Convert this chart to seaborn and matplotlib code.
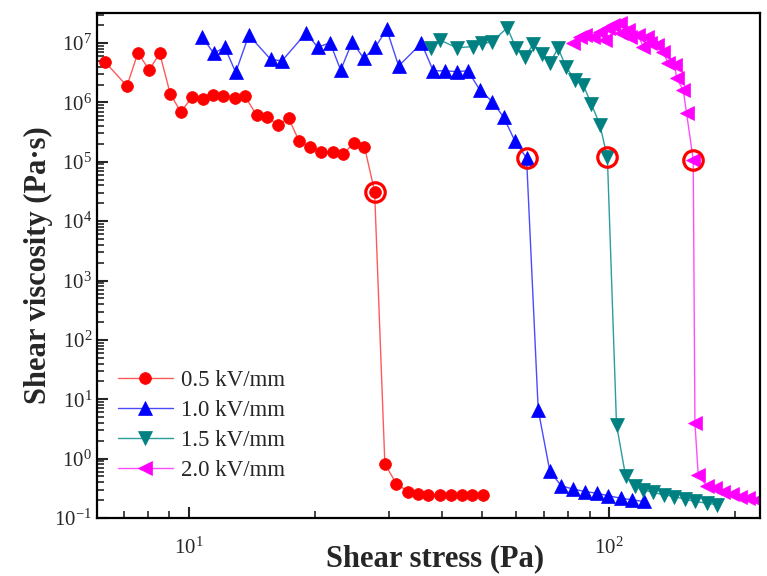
import numpy as np
import pandas as pd
import matplotlib
matplotlib.use("Agg")
import matplotlib.pyplot as plt
import seaborn as sns
from matplotlib.ticker import LogLocator, NullFormatter

# ---- data ----
red_x = [6.31, 7.13, 7.57, 8.05, 8.53, 9.04, 9.57, 10.2, 10.8, 11.4, 12.1, 12.9, 13.6,
         14.5, 15.4, 16.3, 17.3, 18.3, 19.4, 20.6, 22.0, 23.3, 24.7, 26.2, 27.7, 29.3,
         31.2, 33.3, 35.2, 37.2, 39.6, 42.0, 44.6, 47.3, 50.1]
red_y = [4.84e6, 1.89e6, 6.87e6, 3.51e6, 6.71e6, 1.38e6, 6.97e5, 1.22e6, 1.14e6, 1.33e6,
         1.28e6, 1.17e6, 1.28e6, 6.14e5, 5.61e5, 4.17e5, 5.40e5, 2.24e5, 1.80e5, 1.48e5,
         1.48e5, 1.35e5, 2.05e5, 1.80e5, 3.14e4, 0.817, 0.377, 0.279, 0.25, 0.245, 0.245,
         0.245, 0.245, 0.245, 0.245]

blue_x = [10.78, 11.47, 12.18, 12.94, 13.9, 15.67, 16.67, 19.0, 20.3, 21.7, 23.0, 24.5,
          26.1, 27.8, 29.6, 31.6, 35.8, 38.2, 40.7, 43.4, 46.2, 49.3, 52.8, 56.2, 59.7,
          63.7, 67.9, 72.4, 77.1, 82.2, 87.7, 93.5, 99.6, 106.6, 113.8, 121.0]
blue_y = [1.25e7, 6.7e6, 8.5e6, 3.2e6, 1.36e7, 5.3e6, 5.0e6, 1.46e7, 8.5e6, 1.01e7, 3.5e6,
          1.05e7, 5.5e6, 8.5e6, 1.7e7, 4.1e6, 9.9e6, 3.4e6, 3.4e6, 3.3e6, 3.4e6, 1.62e6,
          1.03e6, 5.6e5, 2.27e5, 1.15e5, 6.64, 0.607, 0.348, 0.307, 0.279, 0.262, 0.237,
          0.216, 0.202, 0.190]

teal_x = [37.8, 39.7, 43.4, 47.4, 49.8, 52.6, 57.3, 60.1, 63.1, 66.1, 69.2, 72.4, 75.7,
          79.0, 83.0, 86.9, 90.9, 95.2, 99.2, 104.3, 109.6, 115.4, 120.7, 127.5, 135.2,
          142.8, 151.7, 160.2, 170.9, 181.1]
teal_y = [8.15e6, 1.12e7, 8.3e6, 8.7e6, 9.9e6, 1.03e7, 1.81e7, 8.3e6, 5.9e6, 9.5e6, 6.5e6,
          4.55e6, 8.3e6, 4.0e6, 2.4e6, 1.96e6, 9.3e5, 4.2e5, 1.18e5, 3.7, 0.513, 0.348,
          0.298, 0.269, 0.246, 0.230, 0.208, 0.190, 0.178, 0.167]

mag_x = [82.2, 85.3, 87.7, 91.8, 95.2, 97.8, 99.6, 102.3, 106.1, 107.1, 111.1, 112.2,
         117.4, 120.7, 123.0, 125.3, 129.9, 134.7, 138.4, 143.6, 144.9, 150.3, 153.1,
         158.8, 160.3, 163.2, 170.9, 178.7, 187.1, 195.9, 205.1, 214.7, 224.8]
mag_y = [9.9e6, 1.28e7, 1.36e7, 1.28e7, 1.55e7, 1.12e7, 1.77e7, 2.01e7, 2.15e7, 1.46e7,
         1.66e7, 1.28e7, 1.36e7, 8.7e6, 1.28e7, 9.9e6, 9.3e6, 7.1e6, 4.6e6, 4.3e6, 2.55e6,
         1.62e6, 6.6e5, 1.07e5, 3.96, 0.533, 0.348, 0.318, 0.279, 0.255, 0.230, 0.216, 0.202]

labels = ["0.5 kV/mm", "1.0 kV/mm", "1.5 kV/mm", "2.0 kV/mm"]
# index of the yield (transition) point in each series, circled in the chart
yield_idx = [24, 25, 18, 23]

# ---- style ----
sns.set_style("ticks")
plt.rcParams["font.family"] = ["Liberation Serif", "DejaVu Serif"]
plt.rcParams["mathtext.fontset"] = "custom"
plt.rcParams["mathtext.rm"] = "Liberation Serif"
plt.rcParams["mathtext.it"] = "Liberation Serif:italic"
plt.rcParams["mathtext.bf"] = "Liberation Serif:bold"

fig = plt.figure(figsize=(7.67, 5.76), dpi=100)
ax = fig.add_axes([0.1265, 0.1007, 0.8644, 0.8767])

series = [
    (red_x, red_y, "#ff0000", "#ff5a5a", "o", 8.5),
    (blue_x, blue_y, "#0000ff", "#4a4aff", "^", 9.5),
    (teal_x, teal_y, "#008080", "#2a9d9d", "v", 9.5),
    (mag_x, mag_y, "#ff00ff", "#ff4cff", "<", 9.5),
]

frames = []
for (xs, ys, c, lc, m, ms), lab in zip(series, labels):
    frames.append(pd.DataFrame({"stress": xs, "viscosity": ys, "field": lab}))
df = pd.concat(frames, ignore_index=True)

for (xs, ys, c, lc, m, ms), lab in zip(series, labels):
    sub = df[df["field"] == lab]
    sns.lineplot(data=sub, x="stress", y="viscosity", ax=ax, color=c, sort=False,
                 estimator=None, linewidth=1.0, marker=m, markersize=ms,
                 markeredgecolor=c, markerfacecolor=c, markeredgewidth=0.5,
                 label=lab)
    ax.get_lines()[-1].set_color(lc)

# circled yield points
for (xs, ys, c, lc, m, ms), idx in zip(series, yield_idx):
    ax.plot([xs[idx]], [ys[idx]], linestyle="none", marker="o", markersize=14,
            markerfacecolor="none", markeredgecolor="#ff0000", markeredgewidth=2.3,
            zorder=5)

ax.set_xscale("log")
ax.set_yscale("log")
ax.set_xlim(6.05, 229)
ax.set_ylim(0.1, 3.2e7)

ax.yaxis.set_major_locator(LogLocator(base=10, numticks=20))
ax.yaxis.set_minor_locator(LogLocator(base=10, subs=np.arange(2, 10), numticks=100))
ax.yaxis.set_minor_formatter(NullFormatter())
ax.xaxis.set_minor_locator(LogLocator(base=10, subs=np.arange(2, 10), numticks=100))
ax.xaxis.set_minor_formatter(NullFormatter())

ax.tick_params(which="major", direction="in", length=8, width=1.5, labelsize=15,
               top=False, right=False)
ax.tick_params(which="minor", direction="in", length=5, width=1.2, top=False, right=False)
ax.tick_params(axis="x", which="major", pad=14)
for sp in ax.spines.values():
    sp.set_linewidth(1.6)
    sp.set_color("black")

ax.set_xlabel("Shear stress (Pa)", fontsize=22, fontweight="bold", va="center")
ax.xaxis.set_label_coords(0.51, -0.081)
ax.set_ylabel("Shear viscosity (Pa·s)", fontsize=22, fontweight="bold", va="center")
ax.yaxis.set_label_coords(-0.089, 0.5)

leg = ax.legend(loc="upper left", bbox_to_anchor=(0.0175, 0.312), frameon=False,
                fontsize=16.5, handlelength=2.4, handletextpad=0.35, labelspacing=0.4,
                borderaxespad=0.0)
for h, (xs, ys, c, lc, m, ms) in zip(leg.get_lines(), series):
    h.set_color(lc)
    h.set_markerfacecolor(c)
    h.set_markeredgecolor(c)

fig.savefig("out.png", dpi=100)
